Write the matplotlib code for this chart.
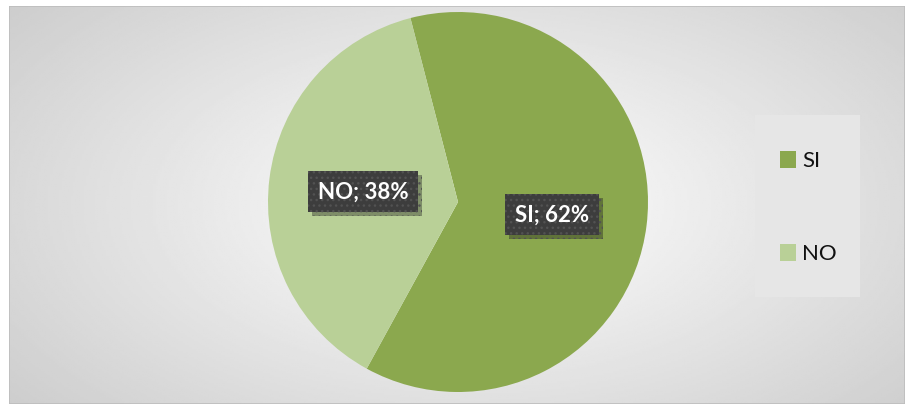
import numpy as np
import matplotlib
matplotlib.use("Agg")
import matplotlib.pyplot as plt
import matplotlib.patheffects as pe
from matplotlib.patches import Rectangle

labels = ["SI", "NO"]
shares = [62, 38]
colors = ["#8BA84E", "#B9D097"]

plt.rcParams["font.family"] = ["Lato", "DejaVu Sans"]

fig = plt.figure(figsize=(9.12, 4.10), dpi=100)
fig.patch.set_facecolor("white")

# gradient background of the chart area
bg = fig.add_axes([9 / 912, 5 / 410, 896 / 912, 398 / 410])
bg.set_axis_off()
yy, xx = np.mgrid[0:1:200j, 0:1:400j]
d = np.sqrt(((xx - 0.52) / 0.75) ** 2 + ((yy - 0.5) / 0.9) ** 2)
g = np.clip(1.0 - 0.22 * d, 0.76, 1.0)
bg.imshow(g, cmap="gray", vmin=0, vmax=1, extent=[0, 1, 0, 1], aspect="auto")
bg.add_patch(Rectangle((0, 0), 1, 1, fill=False, ec="#BDBDBD", lw=1.2,
                       transform=bg.transAxes))

# pie
r = 190
cx, cy = 458, 410 - 203
ax = fig.add_axes([(cx - r) / 912, (cy - r) / 410, 2 * r / 912, 2 * r / 410])
ax.pie(shares, colors=colors, startangle=104.5, counterclock=False,
       wedgeprops=dict(linewidth=0))
ax.set_aspect("auto")
ax.set_xlim(-1, 1)
ax.set_ylim(-1, 1)

# data labels
lab_pos = [(552, 215), (363, 192)]
for name, val, (px, py) in zip(labels, shares, lab_pos):
    t = fig.text(px / 912, 1 - py / 410, f"{name}; {val}%", ha="center", va="center",
                 fontsize=16, fontweight="bold", color="white",
                 bbox=dict(boxstyle="square,pad=0.45", fc="#3D3D3D", ec="#525252",
                           lw=0, hatch="..."))
    t.get_bbox_patch().set_path_effects(
        [pe.SimplePatchShadow(offset=(3, -3), alpha=0.35), pe.Normal()])

# legend box
lg = fig.add_axes([755 / 912, 1 - 298 / 410, 105 / 912, 182 / 410])
lg.set_axis_off()
lg.add_patch(Rectangle((0, 0), 1, 1, fc="#E6E6E6", ec="none", transform=lg.transAxes))
for i, (name, c) in enumerate(zip(labels, colors)):
    ly = 1 - (161 + i * 93 - 116) / 182
    lg.add_patch(Rectangle((25 / 105, ly - 8 / 182), 16 / 105, 17 / 182, fc=c, ec="none",
                           transform=lg.transAxes))
    lg.text(47 / 105, ly, name, fontsize=16, va="center", ha="left", color="#111111",
            transform=lg.transAxes)

fig.savefig("out.png", dpi=100)
